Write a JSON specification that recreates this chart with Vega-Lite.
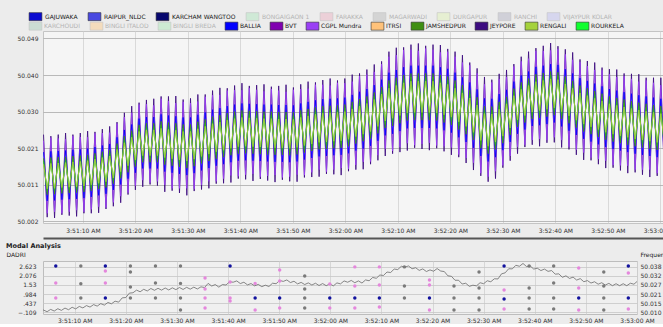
{
"background": "#ececec",
"padding": {"left": 5, "top": 11, "right": 0, "bottom": 0},
"spacing": 3,
"config": {"font": "DejaVu Sans", "view": {"stroke": null}, "axis": {"labelFont": "DejaVu Sans", "labelFontSize": 6, "labelColor": "#333333", "titleFont": "DejaVu Sans"}, "legend": {"labelFont": "DejaVu Sans"}, "title": {"font": "DejaVu Sans"}},
"datasets": {
"freq": [
{"t":2.5,"JEYPORE":50.0243,"CGPL Mundra":50.0227,"BALLIA":50.0198,"JAMSHEDPUR":50.0182,"RENGALI":50.0167,"ROURKELA":50.0175,"DADRI":50.0111},
{"t":3.2,"JEYPORE":50.0031,"CGPL Mundra":50.0041,"BALLIA":50.0073,"JAMSHEDPUR":50.0089,"RENGALI":50.0104,"ROURKELA":50.0096,"DADRI":50.0101},
{"t":3.9,"JEYPORE":50.0239,"CGPL Mundra":50.0235,"BALLIA":50.0200,"JAMSHEDPUR":50.0184,"RENGALI":50.0169,"ROURKELA":50.0177,"DADRI":50.0115},
{"t":4.6,"JEYPORE":50.0029,"CGPL Mundra":50.0045,"BALLIA":50.0074,"JAMSHEDPUR":50.0090,"RENGALI":50.0105,"ROURKELA":50.0097,"DADRI":50.0105},
{"t":5.3,"JEYPORE":50.0243,"CGPL Mundra":50.0233,"BALLIA":50.0201,"JAMSHEDPUR":50.0185,"RENGALI":50.0170,"ROURKELA":50.0178,"DADRI":50.0119},
{"t":6.0,"JEYPORE":50.0037,"CGPL Mundra":50.0041,"BALLIA":50.0076,"JAMSHEDPUR":50.0092,"RENGALI":50.0107,"ROURKELA":50.0099,"DADRI":50.0109},
{"t":6.7,"JEYPORE":50.0247,"CGPL Mundra":50.0231,"BALLIA":50.0202,"JAMSHEDPUR":50.0186,"RENGALI":50.0171,"ROURKELA":50.0179,"DADRI":50.0123},
{"t":7.4,"JEYPORE":50.0035,"CGPL Mundra":50.0045,"BALLIA":50.0077,"JAMSHEDPUR":50.0093,"RENGALI":50.0108,"ROURKELA":50.0100,"DADRI":50.0113},
{"t":8.1,"JEYPORE":50.0243,"CGPL Mundra":50.0239,"BALLIA":50.0204,"JAMSHEDPUR":50.0188,"RENGALI":50.0173,"ROURKELA":50.0181,"DADRI":50.0127},
{"t":8.8,"JEYPORE":50.0033,"CGPL Mundra":50.0049,"BALLIA":50.0078,"JAMSHEDPUR":50.0094,"RENGALI":50.0109,"ROURKELA":50.0101,"DADRI":50.0117},
{"t":9.5,"JEYPORE":50.0247,"CGPL Mundra":50.0237,"BALLIA":50.0205,"JAMSHEDPUR":50.0189,"RENGALI":50.0174,"ROURKELA":50.0182,"DADRI":50.0132},
{"t":10.2,"JEYPORE":50.0041,"CGPL Mundra":50.0045,"BALLIA":50.0080,"JAMSHEDPUR":50.0096,"RENGALI":50.0111,"ROURKELA":50.0103,"DADRI":50.0122},
{"t":10.9,"JEYPORE":50.0252,"CGPL Mundra":50.0236,"BALLIA":50.0207,"JAMSHEDPUR":50.0191,"RENGALI":50.0176,"ROURKELA":50.0184,"DADRI":50.0137},
{"t":11.6,"JEYPORE":50.0041,"CGPL Mundra":50.0051,"BALLIA":50.0083,"JAMSHEDPUR":50.0099,"RENGALI":50.0114,"ROURKELA":50.0106,"DADRI":50.0128},
{"t":12.3,"JEYPORE":50.0250,"CGPL Mundra":50.0246,"BALLIA":50.0211,"JAMSHEDPUR":50.0195,"RENGALI":50.0180,"ROURKELA":50.0188,"DADRI":50.0142},
{"t":13.0,"JEYPORE":50.0042,"CGPL Mundra":50.0058,"BALLIA":50.0087,"JAMSHEDPUR":50.0103,"RENGALI":50.0118,"ROURKELA":50.0110,"DADRI":50.0133},
{"t":13.7,"JEYPORE":50.0257,"CGPL Mundra":50.0247,"BALLIA":50.0215,"JAMSHEDPUR":50.0199,"RENGALI":50.0184,"ROURKELA":50.0192,"DADRI":50.0148},
{"t":14.4,"JEYPORE":50.0052,"CGPL Mundra":50.0056,"BALLIA":50.0091,"JAMSHEDPUR":50.0107,"RENGALI":50.0122,"ROURKELA":50.0114,"DADRI":50.0139},
{"t":15.1,"JEYPORE":50.0264,"CGPL Mundra":50.0248,"BALLIA":50.0219,"JAMSHEDPUR":50.0203,"RENGALI":50.0188,"ROURKELA":50.0196,"DADRI":50.0154},
{"t":15.8,"JEYPORE":50.0059,"CGPL Mundra":50.0069,"BALLIA":50.0101,"JAMSHEDPUR":50.0117,"RENGALI":50.0132,"ROURKELA":50.0124,"DADRI":50.0145},
{"t":16.5,"JEYPORE":50.0275,"CGPL Mundra":50.0271,"BALLIA":50.0236,"JAMSHEDPUR":50.0220,"RENGALI":50.0205,"ROURKELA":50.0213,"DADRI":50.0161},
{"t":17.2,"JEYPORE":50.0068,"CGPL Mundra":50.0085,"BALLIA":50.0115,"JAMSHEDPUR":50.0131,"RENGALI":50.0148,"ROURKELA":50.0139,"DADRI":50.0153},
{"t":17.9,"JEYPORE":50.0299,"CGPL Mundra":50.0288,"BALLIA":50.0255,"JAMSHEDPUR":50.0239,"RENGALI":50.0222,"ROURKELA":50.0231,"DADRI":50.0169},
{"t":18.6,"JEYPORE":50.0089,"CGPL Mundra":50.0094,"BALLIA":50.0130,"JAMSHEDPUR":50.0146,"RENGALI":50.0163,"ROURKELA":50.0154,"DADRI":50.0163},
{"t":19.3,"JEYPORE":50.0316,"CGPL Mundra":50.0299,"BALLIA":50.0269,"JAMSHEDPUR":50.0253,"RENGALI":50.0236,"ROURKELA":50.0245,"DADRI":50.0189},
{"t":20.0,"JEYPORE":50.0101,"CGPL Mundra":50.0112,"BALLIA":50.0145,"JAMSHEDPUR":50.0161,"RENGALI":50.0178,"ROURKELA":50.0169,"DADRI":50.0191},
{"t":20.7,"JEYPORE":50.0325,"CGPL Mundra":50.0320,"BALLIA":50.0284,"JAMSHEDPUR":50.0268,"RENGALI":50.0251,"ROURKELA":50.0260,"DADRI":50.0218},
{"t":21.4,"JEYPORE":50.0109,"CGPL Mundra":50.0126,"BALLIA":50.0156,"JAMSHEDPUR":50.0172,"RENGALI":50.0189,"ROURKELA":50.0180,"DADRI":50.0220},
{"t":22.1,"JEYPORE":50.0332,"CGPL Mundra":50.0321,"BALLIA":50.0288,"JAMSHEDPUR":50.0272,"RENGALI":50.0255,"ROURKELA":50.0264,"DADRI":50.0236},
{"t":22.8,"JEYPORE":50.0115,"CGPL Mundra":50.0120,"BALLIA":50.0156,"JAMSHEDPUR":50.0172,"RENGALI":50.0189,"ROURKELA":50.0180,"DADRI":50.0226},
{"t":23.5,"JEYPORE":50.0335,"CGPL Mundra":50.0318,"BALLIA":50.0288,"JAMSHEDPUR":50.0272,"RENGALI":50.0255,"ROURKELA":50.0264,"DADRI":50.0241},
{"t":24.2,"JEYPORE":50.0112,"CGPL Mundra":50.0123,"BALLIA":50.0156,"JAMSHEDPUR":50.0172,"RENGALI":50.0189,"ROURKELA":50.0180,"DADRI":50.0231},
{"t":24.9,"JEYPORE":50.0341,"CGPL Mundra":50.0335,"BALLIA":50.0295,"JAMSHEDPUR":50.0277,"RENGALI":50.0259,"ROURKELA":50.0268,"DADRI":50.0246},
{"t":25.6,"JEYPORE":50.0096,"CGPL Mundra":50.0114,"BALLIA":50.0148,"JAMSHEDPUR":50.0166,"RENGALI":50.0184,"ROURKELA":50.0175,"DADRI":50.0235},
{"t":26.3,"JEYPORE":50.0341,"CGPL Mundra":50.0329,"BALLIA":50.0292,"JAMSHEDPUR":50.0274,"RENGALI":50.0256,"ROURKELA":50.0265,"DADRI":50.0247},
{"t":27.0,"JEYPORE":50.0099,"CGPL Mundra":50.0105,"BALLIA":50.0145,"JAMSHEDPUR":50.0163,"RENGALI":50.0181,"ROURKELA":50.0172,"DADRI":50.0236},
{"t":27.7,"JEYPORE":50.0342,"CGPL Mundra":50.0324,"BALLIA":50.0290,"JAMSHEDPUR":50.0272,"RENGALI":50.0254,"ROURKELA":50.0263,"DADRI":50.0249},
{"t":28.4,"JEYPORE":50.0093,"CGPL Mundra":50.0105,"BALLIA":50.0142,"JAMSHEDPUR":50.0160,"RENGALI":50.0178,"ROURKELA":50.0169,"DADRI":50.0237},
{"t":29.1,"JEYPORE":50.0333,"CGPL Mundra":50.0327,"BALLIA":50.0287,"JAMSHEDPUR":50.0269,"RENGALI":50.0251,"ROURKELA":50.0260,"DADRI":50.0250},
{"t":29.8,"JEYPORE":50.0087,"CGPL Mundra":50.0105,"BALLIA":50.0139,"JAMSHEDPUR":50.0157,"RENGALI":50.0175,"ROURKELA":50.0166,"DADRI":50.0239},
{"t":30.5,"JEYPORE":50.0336,"CGPL Mundra":50.0324,"BALLIA":50.0287,"JAMSHEDPUR":50.0269,"RENGALI":50.0251,"ROURKELA":50.0260,"DADRI":50.0252},
{"t":31.2,"JEYPORE":50.0098,"CGPL Mundra":50.0104,"BALLIA":50.0144,"JAMSHEDPUR":50.0162,"RENGALI":50.0180,"ROURKELA":50.0171,"DADRI":50.0240},
{"t":31.9,"JEYPORE":50.0346,"CGPL Mundra":50.0328,"BALLIA":50.0294,"JAMSHEDPUR":50.0276,"RENGALI":50.0258,"ROURKELA":50.0267,"DADRI":50.0253},
{"t":32.6,"JEYPORE":50.0102,"CGPL Mundra":50.0114,"BALLIA":50.0151,"JAMSHEDPUR":50.0169,"RENGALI":50.0187,"ROURKELA":50.0178,"DADRI":50.0242},
{"t":33.3,"JEYPORE":50.0346,"CGPL Mundra":50.0340,"BALLIA":50.0300,"JAMSHEDPUR":50.0282,"RENGALI":50.0264,"ROURKELA":50.0273,"DADRI":50.0254},
{"t":34.0,"JEYPORE":50.0105,"CGPL Mundra":50.0123,"BALLIA":50.0157,"JAMSHEDPUR":50.0175,"RENGALI":50.0193,"ROURKELA":50.0184,"DADRI":50.0243},
{"t":34.7,"JEYPORE":50.0356,"CGPL Mundra":50.0344,"BALLIA":50.0307,"JAMSHEDPUR":50.0289,"RENGALI":50.0271,"ROURKELA":50.0280,"DADRI":50.0256},
{"t":35.4,"JEYPORE":50.0117,"CGPL Mundra":50.0123,"BALLIA":50.0163,"JAMSHEDPUR":50.0181,"RENGALI":50.0199,"ROURKELA":50.0190,"DADRI":50.0252},
{"t":36.1,"JEYPORE":50.0363,"CGPL Mundra":50.0345,"BALLIA":50.0311,"JAMSHEDPUR":50.0293,"RENGALI":50.0275,"ROURKELA":50.0284,"DADRI":50.0277},
{"t":36.8,"JEYPORE":50.0118,"CGPL Mundra":50.0130,"BALLIA":50.0167,"JAMSHEDPUR":50.0185,"RENGALI":50.0203,"ROURKELA":50.0194,"DADRI":50.0261},
{"t":37.5,"JEYPORE":50.0362,"CGPL Mundra":50.0356,"BALLIA":50.0316,"JAMSHEDPUR":50.0298,"RENGALI":50.0280,"ROURKELA":50.0289,"DADRI":50.0270},
{"t":38.2,"JEYPORE":50.0120,"CGPL Mundra":50.0138,"BALLIA":50.0172,"JAMSHEDPUR":50.0190,"RENGALI":50.0208,"ROURKELA":50.0199,"DADRI":50.0254},
{"t":38.9,"JEYPORE":50.0369,"CGPL Mundra":50.0357,"BALLIA":50.0320,"JAMSHEDPUR":50.0302,"RENGALI":50.0284,"ROURKELA":50.0293,"DADRI":50.0270},
{"t":39.6,"JEYPORE":50.0130,"CGPL Mundra":50.0136,"BALLIA":50.0176,"JAMSHEDPUR":50.0194,"RENGALI":50.0212,"ROURKELA":50.0203,"DADRI":50.0267},
{"t":40.3,"JEYPORE":50.0375,"CGPL Mundra":50.0357,"BALLIA":50.0323,"JAMSHEDPUR":50.0305,"RENGALI":50.0287,"ROURKELA":50.0296,"DADRI":50.0287},
{"t":41.0,"JEYPORE":50.0128,"CGPL Mundra":50.0140,"BALLIA":50.0177,"JAMSHEDPUR":50.0195,"RENGALI":50.0213,"ROURKELA":50.0204,"DADRI":50.0284},
{"t":41.7,"JEYPORE":50.0368,"CGPL Mundra":50.0362,"BALLIA":50.0322,"JAMSHEDPUR":50.0304,"RENGALI":50.0286,"ROURKELA":50.0295,"DADRI":50.0292},
{"t":42.4,"JEYPORE":50.0124,"CGPL Mundra":50.0142,"BALLIA":50.0176,"JAMSHEDPUR":50.0194,"RENGALI":50.0212,"ROURKELA":50.0203,"DADRI":50.0276},
{"t":43.1,"JEYPORE":50.0370,"CGPL Mundra":50.0358,"BALLIA":50.0321,"JAMSHEDPUR":50.0303,"RENGALI":50.0285,"ROURKELA":50.0294,"DADRI":50.0284},
{"t":43.8,"JEYPORE":50.0129,"CGPL Mundra":50.0135,"BALLIA":50.0175,"JAMSHEDPUR":50.0193,"RENGALI":50.0211,"ROURKELA":50.0202,"DADRI":50.0268},
{"t":44.5,"JEYPORE":50.0372,"CGPL Mundra":50.0354,"BALLIA":50.0320,"JAMSHEDPUR":50.0302,"RENGALI":50.0284,"ROURKELA":50.0293,"DADRI":50.0276},
{"t":45.2,"JEYPORE":50.0125,"CGPL Mundra":50.0137,"BALLIA":50.0174,"JAMSHEDPUR":50.0192,"RENGALI":50.0210,"ROURKELA":50.0201,"DADRI":50.0262},
{"t":45.9,"JEYPORE":50.0366,"CGPL Mundra":50.0360,"BALLIA":50.0320,"JAMSHEDPUR":50.0302,"RENGALI":50.0284,"ROURKELA":50.0293,"DADRI":50.0271},
{"t":46.6,"JEYPORE":50.0121,"CGPL Mundra":50.0139,"BALLIA":50.0173,"JAMSHEDPUR":50.0191,"RENGALI":50.0209,"ROURKELA":50.0200,"DADRI":50.0257},
{"t":47.3,"JEYPORE":50.0368,"CGPL Mundra":50.0356,"BALLIA":50.0319,"JAMSHEDPUR":50.0301,"RENGALI":50.0283,"ROURKELA":50.0292,"DADRI":50.0266},
{"t":48.0,"JEYPORE":50.0127,"CGPL Mundra":50.0133,"BALLIA":50.0173,"JAMSHEDPUR":50.0191,"RENGALI":50.0209,"ROURKELA":50.0200,"DADRI":50.0258},
{"t":48.7,"JEYPORE":50.0371,"CGPL Mundra":50.0353,"BALLIA":50.0319,"JAMSHEDPUR":50.0301,"RENGALI":50.0283,"ROURKELA":50.0292,"DADRI":50.0278},
{"t":49.4,"JEYPORE":50.0123,"CGPL Mundra":50.0135,"BALLIA":50.0172,"JAMSHEDPUR":50.0190,"RENGALI":50.0208,"ROURKELA":50.0199,"DADRI":50.0275},
{"t":50.1,"JEYPORE":50.0364,"CGPL Mundra":50.0358,"BALLIA":50.0318,"JAMSHEDPUR":50.0300,"RENGALI":50.0282,"ROURKELA":50.0291,"DADRI":50.0295},
{"t":50.8,"JEYPORE":50.0122,"CGPL Mundra":50.0140,"BALLIA":50.0174,"JAMSHEDPUR":50.0192,"RENGALI":50.0210,"ROURKELA":50.0201,"DADRI":50.0289},
{"t":51.5,"JEYPORE":50.0372,"CGPL Mundra":50.0360,"BALLIA":50.0323,"JAMSHEDPUR":50.0305,"RENGALI":50.0287,"ROURKELA":50.0296,"DADRI":50.0298},
{"t":52.2,"JEYPORE":50.0133,"CGPL Mundra":50.0139,"BALLIA":50.0179,"JAMSHEDPUR":50.0197,"RENGALI":50.0215,"ROURKELA":50.0206,"DADRI":50.0282},
{"t":52.9,"JEYPORE":50.0379,"CGPL Mundra":50.0361,"BALLIA":50.0327,"JAMSHEDPUR":50.0309,"RENGALI":50.0291,"ROURKELA":50.0300,"DADRI":50.0290},
{"t":53.6,"JEYPORE":50.0134,"CGPL Mundra":50.0146,"BALLIA":50.0183,"JAMSHEDPUR":50.0201,"RENGALI":50.0219,"ROURKELA":50.0210,"DADRI":50.0274},
{"t":54.3,"JEYPORE":50.0377,"CGPL Mundra":50.0371,"BALLIA":50.0331,"JAMSHEDPUR":50.0313,"RENGALI":50.0295,"ROURKELA":50.0304,"DADRI":50.0283},
{"t":55.0,"JEYPORE":50.0135,"CGPL Mundra":50.0153,"BALLIA":50.0187,"JAMSHEDPUR":50.0205,"RENGALI":50.0223,"ROURKELA":50.0214,"DADRI":50.0270},
{"t":55.7,"JEYPORE":50.0383,"CGPL Mundra":50.0371,"BALLIA":50.0334,"JAMSHEDPUR":50.0316,"RENGALI":50.0298,"ROURKELA":50.0307,"DADRI":50.0280},
{"t":56.4,"JEYPORE":50.0142,"CGPL Mundra":50.0148,"BALLIA":50.0188,"JAMSHEDPUR":50.0206,"RENGALI":50.0224,"ROURKELA":50.0215,"DADRI":50.0267},
{"t":57.1,"JEYPORE":50.0387,"CGPL Mundra":50.0369,"BALLIA":50.0335,"JAMSHEDPUR":50.0317,"RENGALI":50.0299,"ROURKELA":50.0308,"DADRI":50.0278},
{"t":57.8,"JEYPORE":50.0141,"CGPL Mundra":50.0153,"BALLIA":50.0190,"JAMSHEDPUR":50.0208,"RENGALI":50.0226,"ROURKELA":50.0217,"DADRI":50.0264},
{"t":58.5,"JEYPORE":50.0382,"CGPL Mundra":50.0376,"BALLIA":50.0336,"JAMSHEDPUR":50.0318,"RENGALI":50.0300,"ROURKELA":50.0309,"DADRI":50.0276},
{"t":59.2,"JEYPORE":50.0139,"CGPL Mundra":50.0157,"BALLIA":50.0191,"JAMSHEDPUR":50.0209,"RENGALI":50.0227,"ROURKELA":50.0218,"DADRI":50.0263},
{"t":59.9,"JEYPORE":50.0387,"CGPL Mundra":50.0375,"BALLIA":50.0338,"JAMSHEDPUR":50.0320,"RENGALI":50.0302,"ROURKELA":50.0311,"DADRI":50.0274},
{"t":60.6,"JEYPORE":50.0149,"CGPL Mundra":50.0155,"BALLIA":50.0195,"JAMSHEDPUR":50.0213,"RENGALI":50.0231,"ROURKELA":50.0222,"DADRI":50.0262},
{"t":61.3,"JEYPORE":50.0397,"CGPL Mundra":50.0379,"BALLIA":50.0345,"JAMSHEDPUR":50.0327,"RENGALI":50.0309,"ROURKELA":50.0318,"DADRI":50.0280},
{"t":62.0,"JEYPORE":50.0153,"CGPL Mundra":50.0165,"BALLIA":50.0202,"JAMSHEDPUR":50.0220,"RENGALI":50.0238,"ROURKELA":50.0229,"DADRI":50.0274},
{"t":62.7,"JEYPORE":50.0400,"CGPL Mundra":50.0393,"BALLIA":50.0353,"JAMSHEDPUR":50.0334,"RENGALI":50.0316,"ROURKELA":50.0325,"DADRI":50.0292},
{"t":63.4,"JEYPORE":50.0154,"CGPL Mundra":50.0173,"BALLIA":50.0207,"JAMSHEDPUR":50.0226,"RENGALI":50.0244,"ROURKELA":50.0235,"DADRI":50.0284},
{"t":64.1,"JEYPORE":50.0410,"CGPL Mundra":50.0397,"BALLIA":50.0360,"JAMSHEDPUR":50.0341,"RENGALI":50.0323,"ROURKELA":50.0332,"DADRI":50.0295},
{"t":64.8,"JEYPORE":50.0167,"CGPL Mundra":50.0174,"BALLIA":50.0214,"JAMSHEDPUR":50.0233,"RENGALI":50.0251,"ROURKELA":50.0242,"DADRI":50.0281},
{"t":65.5,"JEYPORE":50.0423,"CGPL Mundra":50.0404,"BALLIA":50.0370,"JAMSHEDPUR":50.0351,"RENGALI":50.0333,"ROURKELA":50.0342,"DADRI":50.0292},
{"t":66.2,"JEYPORE":50.0177,"CGPL Mundra":50.0190,"BALLIA":50.0227,"JAMSHEDPUR":50.0246,"RENGALI":50.0264,"ROURKELA":50.0255,"DADRI":50.0279},
{"t":66.9,"JEYPORE":50.0431,"CGPL Mundra":50.0424,"BALLIA":50.0384,"JAMSHEDPUR":50.0365,"RENGALI":50.0347,"ROURKELA":50.0356,"DADRI":50.0298},
{"t":67.6,"JEYPORE":50.0188,"CGPL Mundra":50.0207,"BALLIA":50.0241,"JAMSHEDPUR":50.0260,"RENGALI":50.0278,"ROURKELA":50.0269,"DADRI":50.0293},
{"t":68.3,"JEYPORE":50.0456,"CGPL Mundra":50.0443,"BALLIA":50.0402,"JAMSHEDPUR":50.0382,"RENGALI":50.0362,"ROURKELA":50.0373,"DADRI":50.0313},
{"t":69.0,"JEYPORE":50.0194,"CGPL Mundra":50.0201,"BALLIA":50.0245,"JAMSHEDPUR":50.0265,"RENGALI":50.0285,"ROURKELA":50.0274,"DADRI":50.0308},
{"t":69.7,"JEYPORE":50.0466,"CGPL Mundra":50.0447,"BALLIA":50.0409,"JAMSHEDPUR":50.0389,"RENGALI":50.0369,"ROURKELA":50.0380,"DADRI":50.0328},
{"t":70.4,"JEYPORE":50.0198,"CGPL Mundra":50.0211,"BALLIA":50.0252,"JAMSHEDPUR":50.0272,"RENGALI":50.0292,"ROURKELA":50.0281,"DADRI":50.0325},
{"t":71.1,"JEYPORE":50.0467,"CGPL Mundra":50.0460,"BALLIA":50.0416,"JAMSHEDPUR":50.0396,"RENGALI":50.0376,"ROURKELA":50.0387,"DADRI":50.0346},
{"t":71.8,"JEYPORE":50.0202,"CGPL Mundra":50.0221,"BALLIA":50.0259,"JAMSHEDPUR":50.0279,"RENGALI":50.0299,"ROURKELA":50.0288,"DADRI":50.0343},
{"t":72.5,"JEYPORE":50.0474,"CGPL Mundra":50.0461,"BALLIA":50.0420,"JAMSHEDPUR":50.0400,"RENGALI":50.0380,"ROURKELA":50.0391,"DADRI":50.0364},
{"t":73.2,"JEYPORE":50.0209,"CGPL Mundra":50.0216,"BALLIA":50.0260,"JAMSHEDPUR":50.0280,"RENGALI":50.0300,"ROURKELA":50.0289,"DADRI":50.0361},
{"t":73.9,"JEYPORE":50.0477,"CGPL Mundra":50.0458,"BALLIA":50.0420,"JAMSHEDPUR":50.0400,"RENGALI":50.0380,"ROURKELA":50.0391,"DADRI":50.0381},
{"t":74.6,"JEYPORE":50.0206,"CGPL Mundra":50.0219,"BALLIA":50.0260,"JAMSHEDPUR":50.0280,"RENGALI":50.0300,"ROURKELA":50.0289,"DADRI":50.0376},
{"t":75.3,"JEYPORE":50.0471,"CGPL Mundra":50.0464,"BALLIA":50.0420,"JAMSHEDPUR":50.0400,"RENGALI":50.0380,"ROURKELA":50.0391,"DADRI":50.0383},
{"t":76.0,"JEYPORE":50.0203,"CGPL Mundra":50.0222,"BALLIA":50.0260,"JAMSHEDPUR":50.0280,"RENGALI":50.0300,"ROURKELA":50.0289,"DADRI":50.0366},
{"t":76.7,"JEYPORE":50.0474,"CGPL Mundra":50.0461,"BALLIA":50.0420,"JAMSHEDPUR":50.0400,"RENGALI":50.0380,"ROURKELA":50.0391,"DADRI":50.0372},
{"t":77.4,"JEYPORE":50.0208,"CGPL Mundra":50.0215,"BALLIA":50.0259,"JAMSHEDPUR":50.0279,"RENGALI":50.0299,"ROURKELA":50.0288,"DADRI":50.0356},
{"t":78.1,"JEYPORE":50.0473,"CGPL Mundra":50.0454,"BALLIA":50.0416,"JAMSHEDPUR":50.0396,"RENGALI":50.0376,"ROURKELA":50.0387,"DADRI":50.0365},
{"t":78.8,"JEYPORE":50.0200,"CGPL Mundra":50.0213,"BALLIA":50.0254,"JAMSHEDPUR":50.0274,"RENGALI":50.0294,"ROURKELA":50.0283,"DADRI":50.0349},
{"t":79.5,"JEYPORE":50.0463,"CGPL Mundra":50.0456,"BALLIA":50.0412,"JAMSHEDPUR":50.0392,"RENGALI":50.0372,"ROURKELA":50.0383,"DADRI":50.0359},
{"t":80.2,"JEYPORE":50.0191,"CGPL Mundra":50.0210,"BALLIA":50.0248,"JAMSHEDPUR":50.0268,"RENGALI":50.0288,"ROURKELA":50.0277,"DADRI":50.0351},
{"t":80.9,"JEYPORE":50.0456,"CGPL Mundra":50.0443,"BALLIA":50.0402,"JAMSHEDPUR":50.0382,"RENGALI":50.0362,"ROURKELA":50.0373,"DADRI":50.0367},
{"t":81.6,"JEYPORE":50.0185,"CGPL Mundra":50.0192,"BALLIA":50.0236,"JAMSHEDPUR":50.0256,"RENGALI":50.0276,"ROURKELA":50.0265,"DADRI":50.0352},
{"t":82.3,"JEYPORE":50.0447,"CGPL Mundra":50.0428,"BALLIA":50.0390,"JAMSHEDPUR":50.0370,"RENGALI":50.0350,"ROURKELA":50.0361,"DADRI":50.0349},
{"t":83.0,"JEYPORE":50.0170,"CGPL Mundra":50.0183,"BALLIA":50.0224,"JAMSHEDPUR":50.0244,"RENGALI":50.0264,"ROURKELA":50.0253,"DADRI":50.0323},
{"t":83.7,"JEYPORE":50.0428,"CGPL Mundra":50.0421,"BALLIA":50.0377,"JAMSHEDPUR":50.0357,"RENGALI":50.0337,"ROURKELA":50.0348,"DADRI":50.0320},
{"t":84.4,"JEYPORE":50.0152,"CGPL Mundra":50.0171,"BALLIA":50.0209,"JAMSHEDPUR":50.0229,"RENGALI":50.0249,"ROURKELA":50.0238,"DADRI":50.0296},
{"t":85.1,"JEYPORE":50.0413,"CGPL Mundra":50.0400,"BALLIA":50.0359,"JAMSHEDPUR":50.0339,"RENGALI":50.0319,"ROURKELA":50.0330,"DADRI":50.0296},
{"t":85.8,"JEYPORE":50.0137,"CGPL Mundra":50.0144,"BALLIA":50.0188,"JAMSHEDPUR":50.0208,"RENGALI":50.0228,"ROURKELA":50.0217,"DADRI":50.0273},
{"t":86.5,"JEYPORE":50.0391,"CGPL Mundra":50.0372,"BALLIA":50.0336,"JAMSHEDPUR":50.0316,"RENGALI":50.0297,"ROURKELA":50.0307,"DADRI":50.0278},
{"t":87.2,"JEYPORE":50.0122,"CGPL Mundra":50.0135,"BALLIA":50.0174,"JAMSHEDPUR":50.0194,"RENGALI":50.0213,"ROURKELA":50.0203,"DADRI":50.0259},
{"t":87.9,"JEYPORE":50.0384,"CGPL Mundra":50.0377,"BALLIA":50.0335,"JAMSHEDPUR":50.0315,"RENGALI":50.0296,"ROURKELA":50.0306,"DADRI":50.0266},
{"t":88.6,"JEYPORE":50.0130,"CGPL Mundra":50.0149,"BALLIA":50.0185,"JAMSHEDPUR":50.0205,"RENGALI":50.0224,"ROURKELA":50.0214,"DADRI":50.0262},
{"t":89.3,"JEYPORE":50.0399,"CGPL Mundra":50.0386,"BALLIA":50.0347,"JAMSHEDPUR":50.0327,"RENGALI":50.0308,"ROURKELA":50.0318,"DADRI":50.0281},
{"t":90.0,"JEYPORE":50.0158,"CGPL Mundra":50.0164,"BALLIA":50.0203,"JAMSHEDPUR":50.0221,"RENGALI":50.0239,"ROURKELA":50.0229,"DADRI":50.0275},
{"t":90.7,"JEYPORE":50.0409,"CGPL Mundra":50.0391,"BALLIA":50.0358,"JAMSHEDPUR":50.0340,"RENGALI":50.0322,"ROURKELA":50.0332,"DADRI":50.0293},
{"t":91.4,"JEYPORE":50.0176,"CGPL Mundra":50.0188,"BALLIA":50.0224,"JAMSHEDPUR":50.0242,"RENGALI":50.0260,"ROURKELA":50.0250,"DADRI":50.0287},
{"t":92.1,"JEYPORE":50.0424,"CGPL Mundra":50.0418,"BALLIA":50.0379,"JAMSHEDPUR":50.0361,"RENGALI":50.0343,"ROURKELA":50.0353,"DADRI":50.0305},
{"t":92.8,"JEYPORE":50.0194,"CGPL Mundra":50.0212,"BALLIA":50.0245,"JAMSHEDPUR":50.0263,"RENGALI":50.0281,"ROURKELA":50.0271,"DADRI":50.0304},
{"t":93.5,"JEYPORE":50.0443,"CGPL Mundra":50.0431,"BALLIA":50.0395,"JAMSHEDPUR":50.0377,"RENGALI":50.0359,"ROURKELA":50.0369,"DADRI":50.0335},
{"t":94.2,"JEYPORE":50.0211,"CGPL Mundra":50.0217,"BALLIA":50.0256,"JAMSHEDPUR":50.0274,"RENGALI":50.0292,"ROURKELA":50.0282,"DADRI":50.0341},
{"t":94.9,"JEYPORE":50.0456,"CGPL Mundra":50.0438,"BALLIA":50.0405,"JAMSHEDPUR":50.0387,"RENGALI":50.0369,"ROURKELA":50.0379,"DADRI":50.0366},
{"t":95.6,"JEYPORE":50.0217,"CGPL Mundra":50.0229,"BALLIA":50.0265,"JAMSHEDPUR":50.0283,"RENGALI":50.0301,"ROURKELA":50.0291,"DADRI":50.0365},
{"t":96.3,"JEYPORE":50.0465,"CGPL Mundra":50.0458,"BALLIA":50.0417,"JAMSHEDPUR":50.0398,"RENGALI":50.0379,"ROURKELA":50.0389,"DADRI":50.0387},
{"t":97.0,"JEYPORE":50.0213,"CGPL Mundra":50.0232,"BALLIA":50.0267,"JAMSHEDPUR":50.0286,"RENGALI":50.0305,"ROURKELA":50.0295,"DADRI":50.0381},
{"t":97.7,"JEYPORE":50.0471,"CGPL Mundra":50.0458,"BALLIA":50.0420,"JAMSHEDPUR":50.0401,"RENGALI":50.0382,"ROURKELA":50.0392,"DADRI":50.0398},
{"t":98.4,"JEYPORE":50.0222,"CGPL Mundra":50.0229,"BALLIA":50.0270,"JAMSHEDPUR":50.0289,"RENGALI":50.0308,"ROURKELA":50.0298,"DADRI":50.0379},
{"t":99.1,"JEYPORE":50.0478,"CGPL Mundra":50.0459,"BALLIA":50.0424,"JAMSHEDPUR":50.0405,"RENGALI":50.0386,"ROURKELA":50.0396,"DADRI":50.0383},
{"t":99.8,"JEYPORE":50.0223,"CGPL Mundra":50.0236,"BALLIA":50.0274,"JAMSHEDPUR":50.0293,"RENGALI":50.0312,"ROURKELA":50.0302,"DADRI":50.0364},
{"t":100.5,"JEYPORE":50.0470,"CGPL Mundra":50.0463,"BALLIA":50.0422,"JAMSHEDPUR":50.0403,"RENGALI":50.0384,"ROURKELA":50.0394,"DADRI":50.0369},
{"t":101.2,"JEYPORE":50.0210,"CGPL Mundra":50.0229,"BALLIA":50.0264,"JAMSHEDPUR":50.0283,"RENGALI":50.0302,"ROURKELA":50.0292,"DADRI":50.0355},
{"t":101.9,"JEYPORE":50.0462,"CGPL Mundra":50.0449,"BALLIA":50.0411,"JAMSHEDPUR":50.0392,"RENGALI":50.0373,"ROURKELA":50.0383,"DADRI":50.0364},
{"t":102.6,"JEYPORE":50.0205,"CGPL Mundra":50.0212,"BALLIA":50.0253,"JAMSHEDPUR":50.0272,"RENGALI":50.0291,"ROURKELA":50.0281,"DADRI":50.0350},
{"t":103.3,"JEYPORE":50.0454,"CGPL Mundra":50.0435,"BALLIA":50.0400,"JAMSHEDPUR":50.0381,"RENGALI":50.0362,"ROURKELA":50.0372,"DADRI":50.0355},
{"t":104.0,"JEYPORE":50.0191,"CGPL Mundra":50.0204,"BALLIA":50.0242,"JAMSHEDPUR":50.0261,"RENGALI":50.0280,"ROURKELA":50.0270,"DADRI":50.0333},
{"t":104.7,"JEYPORE":50.0436,"CGPL Mundra":50.0429,"BALLIA":50.0388,"JAMSHEDPUR":50.0369,"RENGALI":50.0350,"ROURKELA":50.0360,"DADRI":50.0335},
{"t":105.4,"JEYPORE":50.0178,"CGPL Mundra":50.0197,"BALLIA":50.0232,"JAMSHEDPUR":50.0251,"RENGALI":50.0270,"ROURKELA":50.0260,"DADRI":50.0314},
{"t":106.1,"JEYPORE":50.0432,"CGPL Mundra":50.0419,"BALLIA":50.0381,"JAMSHEDPUR":50.0362,"RENGALI":50.0343,"ROURKELA":50.0353,"DADRI":50.0323},
{"t":106.8,"JEYPORE":50.0177,"CGPL Mundra":50.0184,"BALLIA":50.0225,"JAMSHEDPUR":50.0244,"RENGALI":50.0263,"ROURKELA":50.0253,"DADRI":50.0307},
{"t":107.5,"JEYPORE":50.0428,"CGPL Mundra":50.0409,"BALLIA":50.0374,"JAMSHEDPUR":50.0355,"RENGALI":50.0336,"ROURKELA":50.0346,"DADRI":50.0315},
{"t":108.2,"JEYPORE":50.0167,"CGPL Mundra":50.0180,"BALLIA":50.0218,"JAMSHEDPUR":50.0237,"RENGALI":50.0256,"ROURKELA":50.0246,"DADRI":50.0297},
{"t":108.9,"JEYPORE":50.0415,"CGPL Mundra":50.0408,"BALLIA":50.0367,"JAMSHEDPUR":50.0348,"RENGALI":50.0329,"ROURKELA":50.0339,"DADRI":50.0306},
{"t":109.6,"JEYPORE":50.0157,"CGPL Mundra":50.0176,"BALLIA":50.0211,"JAMSHEDPUR":50.0230,"RENGALI":50.0249,"ROURKELA":50.0239,"DADRI":50.0287},
{"t":110.3,"JEYPORE":50.0411,"CGPL Mundra":50.0398,"BALLIA":50.0360,"JAMSHEDPUR":50.0341,"RENGALI":50.0322,"ROURKELA":50.0332,"DADRI":50.0294},
{"t":111.0,"JEYPORE":50.0158,"CGPL Mundra":50.0165,"BALLIA":50.0206,"JAMSHEDPUR":50.0225,"RENGALI":50.0244,"ROURKELA":50.0234,"DADRI":50.0279},
{"t":111.7,"JEYPORE":50.0410,"CGPL Mundra":50.0391,"BALLIA":50.0356,"JAMSHEDPUR":50.0337,"RENGALI":50.0318,"ROURKELA":50.0328,"DADRI":50.0287},
{"t":112.4,"JEYPORE":50.0151,"CGPL Mundra":50.0164,"BALLIA":50.0202,"JAMSHEDPUR":50.0221,"RENGALI":50.0240,"ROURKELA":50.0230,"DADRI":50.0272},
{"t":113.1,"JEYPORE":50.0400,"CGPL Mundra":50.0393,"BALLIA":50.0352,"JAMSHEDPUR":50.0333,"RENGALI":50.0314,"ROURKELA":50.0324,"DADRI":50.0281},
{"t":113.8,"JEYPORE":50.0144,"CGPL Mundra":50.0163,"BALLIA":50.0198,"JAMSHEDPUR":50.0217,"RENGALI":50.0236,"ROURKELA":50.0226,"DADRI":50.0267},
{"t":114.5,"JEYPORE":50.0399,"CGPL Mundra":50.0386,"BALLIA":50.0348,"JAMSHEDPUR":50.0329,"RENGALI":50.0310,"ROURKELA":50.0320,"DADRI":50.0277},
{"t":115.2,"JEYPORE":50.0146,"CGPL Mundra":50.0153,"BALLIA":50.0194,"JAMSHEDPUR":50.0213,"RENGALI":50.0232,"ROURKELA":50.0222,"DADRI":50.0263},
{"t":115.9,"JEYPORE":50.0398,"CGPL Mundra":50.0379,"BALLIA":50.0344,"JAMSHEDPUR":50.0325,"RENGALI":50.0306,"ROURKELA":50.0316,"DADRI":50.0275},
{"t":116.6,"JEYPORE":50.0140,"CGPL Mundra":50.0153,"BALLIA":50.0191,"JAMSHEDPUR":50.0210,"RENGALI":50.0229,"ROURKELA":50.0219,"DADRI":50.0263},
{"t":117.3,"JEYPORE":50.0389,"CGPL Mundra":50.0382,"BALLIA":50.0341,"JAMSHEDPUR":50.0322,"RENGALI":50.0303,"ROURKELA":50.0313,"DADRI":50.0275},
{"t":118.0,"JEYPORE":50.0134,"CGPL Mundra":50.0153,"BALLIA":50.0188,"JAMSHEDPUR":50.0207,"RENGALI":50.0226,"ROURKELA":50.0216,"DADRI":50.0263},
{"t":118.7,"JEYPORE":50.0389,"CGPL Mundra":50.0376,"BALLIA":50.0338,"JAMSHEDPUR":50.0319,"RENGALI":50.0300,"ROURKELA":50.0310,"DADRI":50.0278},
{"t":119.4,"JEYPORE":50.0137,"CGPL Mundra":50.0144,"BALLIA":50.0185,"JAMSHEDPUR":50.0204,"RENGALI":50.0223,"ROURKELA":50.0213,"DADRI":50.0272},
{"t":120.1,"JEYPORE":50.0389,"CGPL Mundra":50.0370,"BALLIA":50.0335,"JAMSHEDPUR":50.0316,"RENGALI":50.0297,"ROURKELA":50.0307,"DADRI":50.0291},
{"t":120.8,"JEYPORE":50.0130,"CGPL Mundra":50.0143,"BALLIA":50.0181,"JAMSHEDPUR":50.0200,"RENGALI":50.0219,"ROURKELA":50.0209,"DADRI":50.0284}
],
"modes": [
{"t":6.3,"value":2.65,"group":"I"},{"t":6.3,"value":1.64,"group":"III"},{"t":6.3,"value":0.75,"group":"III"},
{"t":11.2,"value":2.65,"group":"II"},{"t":11.2,"value":1.6,"group":"II"},{"t":11.2,"value":0.75,"group":"II"},
{"t":16.0,"value":2.65,"group":"I"},{"t":16.0,"value":2.36,"group":"III"},{"t":16.0,"value":1.64,"group":"III"},{"t":16.0,"value":0.75,"group":"I"},
{"t":20.9,"value":2.65,"group":"II"},{"t":20.9,"value":2.3,"group":"II"},{"t":20.9,"value":1.41,"group":"II"},{"t":20.9,"value":0.75,"group":"II"},
{"t":25.8,"value":2.65,"group":"II"},{"t":25.8,"value":1.64,"group":"II"},{"t":25.8,"value":0.75,"group":"II"},
{"t":30.7,"value":2.65,"group":"II"},{"t":30.7,"value":1.62,"group":"II"},{"t":30.7,"value":0.75,"group":"II"},{"t":30.7,"value":0.04,"group":"II"},
{"t":35.5,"value":1.94,"group":"III"},{"t":35.5,"value":1.29,"group":"III"},{"t":35.5,"value":0.75,"group":"III"},{"t":35.5,"value":0.16,"group":"III"},
{"t":40.4,"value":2.65,"group":"I"},{"t":40.4,"value":1.7,"group":"III"},{"t":40.4,"value":0.75,"group":"III"},{"t":40.4,"value":0.57,"group":"III"},
{"t":45.3,"value":1.62,"group":"III"},{"t":45.3,"value":0.75,"group":"I"},{"t":45.3,"value":0.04,"group":"III"},
{"t":50.1,"value":2.41,"group":"III"},{"t":50.1,"value":1.76,"group":"III"},{"t":50.1,"value":0.75,"group":"I"},{"t":50.1,"value":0.16,"group":"III"},
{"t":55.0,"value":2.06,"group":"II"},{"t":55.0,"value":1.29,"group":"II"},{"t":55.0,"value":0.75,"group":"II"},{"t":55.0,"value":0.16,"group":"II"},
{"t":59.9,"value":1.58,"group":"III"},{"t":59.9,"value":0.75,"group":"I"},{"t":59.9,"value":0.16,"group":"III"},
{"t":64.8,"value":2.6,"group":"III"},{"t":64.8,"value":1.47,"group":"III"},{"t":64.8,"value":0.75,"group":"I"},{"t":64.8,"value":0.16,"group":"III"},
{"t":69.6,"value":2.6,"group":"III"},{"t":69.6,"value":1.52,"group":"III"},{"t":69.6,"value":0.75,"group":"I"},{"t":69.6,"value":0.22,"group":"III"},
{"t":74.5,"value":2.6,"group":"II"},{"t":74.5,"value":1.47,"group":"II"},{"t":74.5,"value":0.75,"group":"II"},
{"t":79.4,"value":1.82,"group":"III"},{"t":79.4,"value":1.52,"group":"III"},{"t":79.4,"value":0.75,"group":"I"},{"t":79.4,"value":0.04,"group":"III"},
{"t":84.2,"value":1.47,"group":"II"},{"t":84.2,"value":0.75,"group":"II"},{"t":84.2,"value":0.04,"group":"II"},
{"t":89.1,"value":2.3,"group":"II"},{"t":89.1,"value":1.35,"group":"II"},{"t":89.1,"value":0.75,"group":"II"},{"t":89.1,"value":0.04,"group":"II"},
{"t":94.0,"value":2.65,"group":"I"},{"t":94.0,"value":1.23,"group":"III"},{"t":94.0,"value":0.69,"group":"I"},{"t":94.0,"value":0.1,"group":"III"},
{"t":98.9,"value":2.65,"group":"II"},{"t":98.9,"value":1.35,"group":"II"},{"t":98.9,"value":0.75,"group":"II"},{"t":98.9,"value":0.1,"group":"II"},
{"t":103.7,"value":2.65,"group":"II"},{"t":103.7,"value":1.64,"group":"II"},{"t":103.7,"value":0.75,"group":"II"},{"t":103.7,"value":0.1,"group":"II"},
{"t":108.6,"value":2.54,"group":"III"},{"t":108.6,"value":1.35,"group":"III"},{"t":108.6,"value":0.75,"group":"I"},{"t":108.6,"value":0.04,"group":"III"},
{"t":113.5,"value":2.3,"group":"II"},{"t":113.5,"value":1.47,"group":"II"},{"t":113.5,"value":0.75,"group":"II"},{"t":113.5,"value":0.04,"group":"II"},
{"t":118.3,"value":2.65,"group":"I"},{"t":118.3,"value":2.24,"group":"III"},{"t":118.3,"value":0.75,"group":"I"},{"t":118.3,"value":0.1,"group":"III"}
]
},
"vconcat": [
{
"width": 621,
"height": 192,
"data": {"name": "freq"},
"view": {"fill": "#f5f5f5", "stroke": "#c4c4c4"},
"layer": [
{
"transform": [{"fold": ["JEYPORE", "CGPL Mundra", "BALLIA", "ROURKELA", "JAMSHEDPUR", "RENGALI"], "as": ["station", "freq"]}],
"mark": {"type": "line", "strokeWidth": 1, "clip": true, "opacity": 0.88},
"encoding": {
"x": {"field": "t", "type": "quantitative", "scale": {"domain": [2.4, 120.7], "nice": false, "zero": false},
"axis": {"values": [10,20,30,40,50,60,70,80,90,100,110,120], "labelExpr": "'3:' + (51 + floor(datum.value / 60)) + ':' + (datum.value % 60 < 10 ? '0' : '') + (datum.value % 60) + ' AM'", "title": null, "grid": true, "gridColor": "#d2d2d2", "gridWidth": 0.8, "tickSize": 0, "domain": false, "labelPadding": 4, "labelOverlap": false, "labelFlush": false}},
"y": {"field": "freq", "type": "quantitative", "scale": {"domain": [50.0016, 50.0509], "nice": false, "zero": false},
"axis": {"values": [50.002, 50.0114, 50.0208, 50.0302, 50.0396, 50.049], "format": ".3f", "title": null, "grid": true, "gridColor": "#aaaaaa", "gridWidth": 0.8, "tickSize": 0, "domain": false, "labelPadding": 5}},
"color": {"field": "station", "type": "nominal", "scale": {"domain": ["KARCHOUDI","BINGLI ITALOD","BINGLI BREDA","BALLIA","BVT","CGPL Mundra","ITRSI","JAMSHEDPUR","JEYPORE","RENGALI","ROURKELA"], "range": ["#cbdcd3","#f4dcbc","#cdebd2","#0000ff","#8000b0","#9a40f5","#ffc27a","#3f8f12","#3d0c80","#a5d23c","#10ff30"]}, "legend": null}
}
},
{
"mark": {"type": "point", "opacity": 0, "filled": true},
"encoding": {
"x": {"field": "t", "type": "quantitative", "axis": {"orient": "bottom", "offset": 15, "labels": false, "ticks": false, "grid": false, "domain": true, "domainColor": "#555555", "domainWidth": 2, "title": null}},
"color": {"datum": "GAJUWAKA", "type": "nominal", "scale": {"domain": ["GAJUWAKA","RAIPUR_NLDC","KARCHAM WANGTOO","BONGAIGAON 1","FARAKKA","MAGARWADI","DURGAPUR","RANCHI","VIJAYPUR KOLAR"], "range": ["#0a0ad0","#4848e0","#07076e","#cfe9d6","#ecd0d8","#d4d4d4","#e6efd2","#d0d0d8","#d6d6ee"]},
"legend": {"orient": "none", "legendX": -12, "legendY": -19, "direction": "horizontal", "title": null, "symbolType": "M-1.6,-1H1.6V1H-1.6Z", "symbolSize": 64, "symbolOpacity": 1, "symbolStrokeColor": "#333333", "symbolStrokeWidth": 0.6, "labelFontSize": 6, "labelOffset": 5, "columnPadding": 8,
"encode": {"labels": {"update": {"fill": {"signal": "indexof(['BONGAIGAON 1','FARAKKA','MAGARWADI','DURGAPUR','RANCHI','VIJAYPUR KOLAR','KARCHOUDI','BINGLI ITALOD','BINGLI BREDA'], datum.value) >= 0 ? '#b4b4b4' : '#1a1a1a'"}}}, "symbols": {"update": {"stroke": {"signal": "indexof(['BONGAIGAON 1','FARAKKA','MAGARWADI','DURGAPUR','RANCHI','VIJAYPUR KOLAR','KARCHOUDI','BINGLI ITALOD','BINGLI BREDA'], datum.value) >= 0 ? '#c4c4c4' : '#333333'"}}}}}}
}
},
{
"mark": {"type": "point", "opacity": 0, "filled": true},
"encoding": {
"x": {"field": "t", "type": "quantitative", "axis": null},
"color": {"datum": "BALLIA", "type": "nominal", "scale": {"domain": ["KARCHOUDI","BINGLI ITALOD","BINGLI BREDA","BALLIA","BVT","CGPL Mundra","ITRSI","JAMSHEDPUR","JEYPORE","RENGALI","ROURKELA"], "range": ["#cbdcd3","#f4dcbc","#cdebd2","#0000ff","#8000b0","#9a40f5","#ffc27a","#3f8f12","#3d0c80","#a5d23c","#10ff30"]},
"legend": {"orient": "none", "legendX": -12, "legendY": -9.5, "direction": "horizontal", "title": null, "symbolType": "M-1.6,-1H1.6V1H-1.6Z", "symbolSize": 64, "symbolOpacity": 1, "symbolStrokeColor": "#333333", "symbolStrokeWidth": 0.6, "labelFontSize": 6, "labelOffset": 4, "columnPadding": 7,
"encode": {"labels": {"update": {"fill": {"signal": "indexof(['BONGAIGAON 1','FARAKKA','MAGARWADI','DURGAPUR','RANCHI','VIJAYPUR KOLAR','KARCHOUDI','BINGLI ITALOD','BINGLI BREDA'], datum.value) >= 0 ? '#b4b4b4' : '#1a1a1a'"}}}, "symbols": {"update": {"stroke": {"signal": "indexof(['BONGAIGAON 1','FARAKKA','MAGARWADI','DURGAPUR','RANCHI','VIJAYPUR KOLAR','KARCHOUDI','BINGLI ITALOD','BINGLI BREDA'], datum.value) >= 0 ? '#c4c4c4' : '#333333'"}}}}}}
}
}
],
"resolve": {"scale": {"color": "independent"}, "axis": {"x": "independent"}, "legend": {"color": "independent"}}
},
{
"width": 594,
"height": 53,
"title": {"text": "Modal Analysis", "anchor": "start", "frame": "bounds", "fontSize": 6.5, "fontWeight": "bold", "color": "#222222", "offset": 2},
"view": {"fill": "#f0f0f0", "stroke": "#bdbdbd"},
"layer": [
{
"data": {"name": "freq"},
"mark": {"type": "line", "color": "#6a6a6a", "strokeWidth": 0.8, "clip": true},
"encoding": {
"x": {"field": "t", "type": "quantitative", "scale": {"domain": [3.8, 120], "nice": false, "zero": false},
"axis": {"values": [10,20,30,40,50,60,70,80,90,100,110,120], "labelExpr": "'3:' + (51 + floor(datum.value / 60)) + ':' + (datum.value % 60 < 10 ? '0' : '') + (datum.value % 60) + ' AM'", "title": null, "grid": true, "gridColor": "#d0d0d0", "gridWidth": 0.8, "tickSize": 0, "domain": false, "labelPadding": 3, "labelOverlap": false, "labelFlush": false}},
"y": {"field": "DADRI", "type": "quantitative", "scale": {"domain": [50.0091, 50.0413], "nice": false, "zero": false},
"axis": {"orient": "right", "values": [50.010, 50.0154, 50.0212, 50.0268, 50.0322, 50.038], "format": ".3f", "title": "Frequency", "titleAngle": 0, "titleAlign": "left", "titleBaseline": "bottom", "titleX": 3, "titleY": -4, "titleFontSize": 6, "titleFontWeight": "normal", "titleColor": "#222222", "grid": false, "tickSize": 0, "domain": false, "labelPadding": 3}}
}
},
{
"data": {"name": "modes"},
"mark": {"type": "circle", "size": 12, "opacity": 1},
"encoding": {
"x": {"field": "t", "type": "quantitative"},
"y": {"field": "value", "type": "quantitative", "scale": {"domain": [-0.2, 2.95], "nice": false, "zero": false},
"axis": {"orient": "left", "values": [-0.109, 0.437, 0.984, 1.53, 2.076, 2.623], "labelExpr": "replace(format(datum.value, '.4~r'), '0.', '.')", "title": "DADRI", "titleAngle": 0, "titleAlign": "left", "titleBaseline": "bottom", "titleX": -37, "titleY": -4, "titleFontSize": 6, "titleFontWeight": "normal", "titleColor": "#222222", "grid": true, "gridColor": "#c6c6c6", "gridWidth": 0.8, "tickSize": 0, "domain": false, "labelPadding": 7}},
"color": {"field": "group", "type": "nominal", "scale": {"domain": ["I", "II", "III"], "range": ["#12129e", "#7a7a7a", "#e487dc"]}, "legend": null}
}
}
],
"resolve": {"scale": {"y": "independent"}}
}
],
"resolve": {"scale": {"x": "independent", "color": "independent"}, "legend": {"color": "independent"}}
}
